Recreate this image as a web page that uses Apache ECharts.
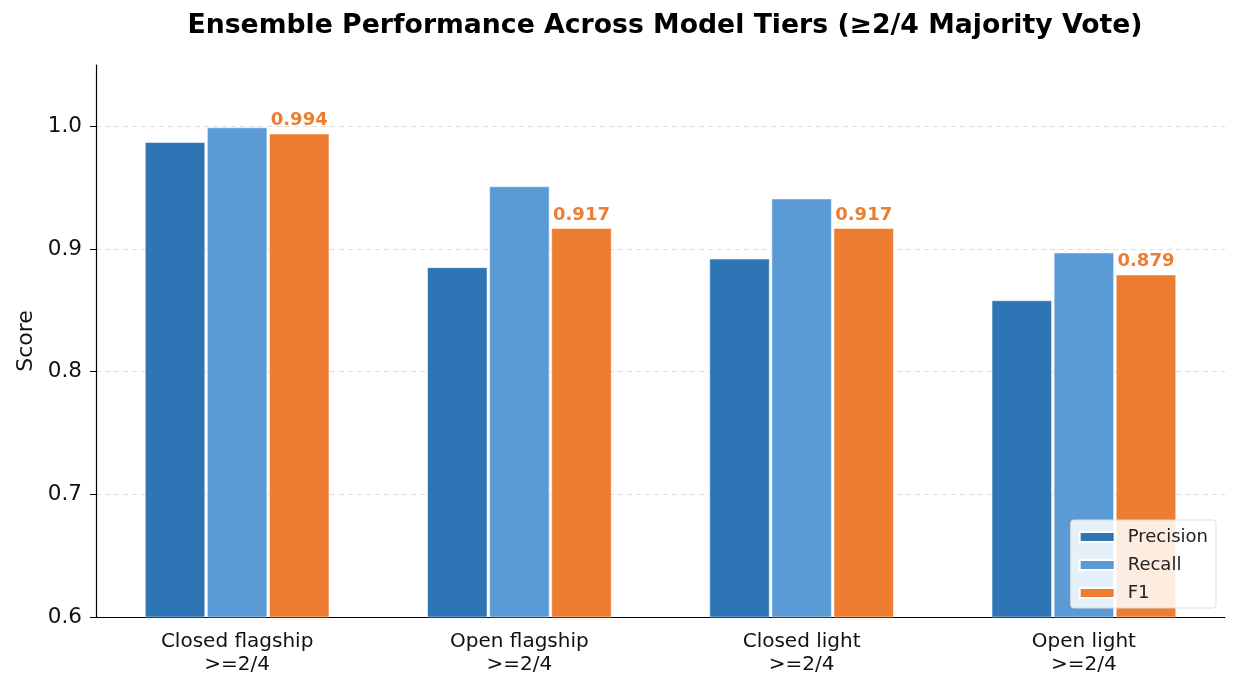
<!DOCTYPE html>
<html><head><meta charset="utf-8">
<script src="https://cdn.jsdelivr.net/npm/echarts@6/dist/echarts.min.js"></script>
<style>html,body{margin:0;padding:0;background:#fff}#c{width:1240px;height:691px}</style>
</head><body><div id="c"></div>
<script>
const categories = ['Closed flagship\n>=2/4', 'Open flagship\n>=2/4', 'Closed light\n>=2/4', 'Open light\n>=2/4'];
const precision = [0.987, 0.885, 0.892, 0.858];
const recall = [0.999, 0.951, 0.941, 0.897];
const f1 = [0.994, 0.917, 0.917, 0.879];
const yTicks = [0.6, 0.7, 0.8, 0.9, 1.0];

const font = 'DejaVu Sans';
const chart = echarts.init(document.getElementById('c'));
const barBase = {type: 'bar', barWidth: 60, barGap: '3.5%', itemStyle: {borderColor: '#fff', borderWidth: 0.5}};
chart.setOption({
  animation: false,
  textStyle: {fontFamily: font},
  title: {text: 'Ensemble Performance Across Model Tiers (≥2/4 Majority Vote)', left: 660, textAlign: 'center', top: 8,
    textStyle: {fontFamily: font, fontWeight: 'bold', fontSize: 26.7, color: '#000'}},
  grid: {left: 96, right: 15, top: 65, bottom: 74},
  legend: {
    right: 24, bottom: 83, orient: 'vertical', itemWidth: 35, itemHeight: 10, itemGap: 10, icon: 'rect',
    padding: [8, 8, 6, 8], borderColor: '#ddd', borderWidth: 1, borderRadius: 3, backgroundColor: 'rgba(255,255,255,0.85)',
    textStyle: {fontFamily: font, fontSize: 18, color: '#222', padding: [0, 0, 0, 8]},
    data: ['Precision', 'Recall', 'F1']
  },
  xAxis: {type: 'category', data: categories,
    axisLine: {lineStyle: {color: '#000', width: 1.2}},
    axisTick: {alignWithLabel: true, length: 5, lineStyle: {color: '#000'}},
    axisLabel: {fontFamily: font, fontSize: 20, color: '#111', lineHeight: 23, margin: 13}},
  yAxis: {type: 'value', min: 0.6, max: 1.05, interval: 0.1, name: 'Score', nameLocation: 'middle', nameGap: 59,
    nameTextStyle: {fontFamily: font, fontSize: 22, color: '#111'},
    axisLine: {show: true, lineStyle: {color: '#000', width: 1.2}},
    axisTick: {show: true, length: 6, lineStyle: {color: '#000'}, customValues: yTicks},
    axisLabel: {fontFamily: font, fontSize: 21.5, color: '#111', margin: 14, customValues: yTicks,
      formatter: v => v.toFixed(1)},
    splitLine: {show: true, lineStyle: {color: '#ddd', type: [5, 4], width: 1}}},
  series: [
    Object.assign({}, barBase, {name: 'Precision', data: precision, itemStyle: Object.assign({}, barBase.itemStyle, {color: '#2E75B6'})}),
    Object.assign({}, barBase, {name: 'Recall', data: recall, itemStyle: Object.assign({}, barBase.itemStyle, {color: '#5B9BD5'})}),
    Object.assign({}, barBase, {name: 'F1', data: f1, itemStyle: Object.assign({}, barBase.itemStyle, {color: '#ED7D31'}),
      label: {show: true, position: 'top', distance: 4, formatter: p => p.value.toFixed(3),
        fontFamily: font, fontWeight: 'bold', fontSize: 18, color: '#ED7D31'}})
  ]
});
</script></body></html>
